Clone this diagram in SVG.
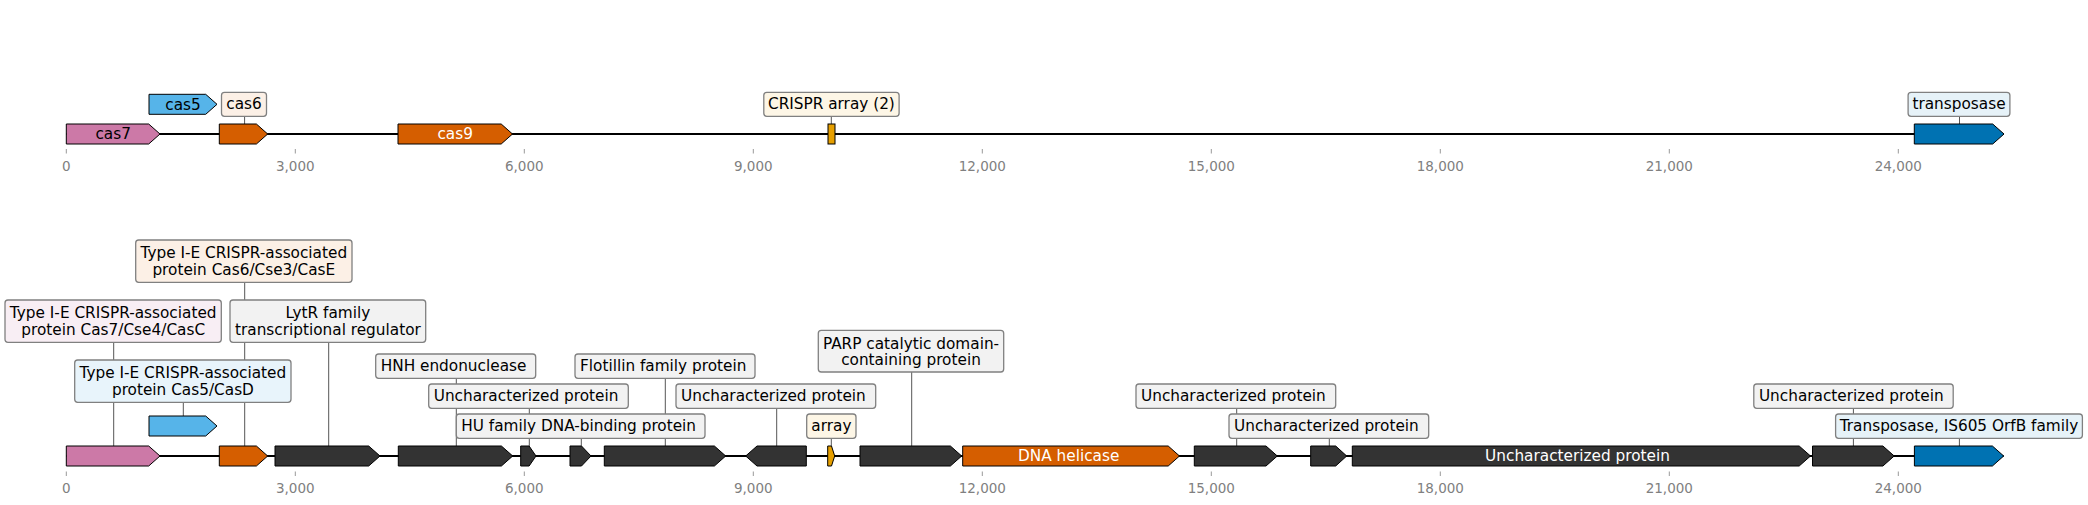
<svg xmlns="http://www.w3.org/2000/svg" width="2088" height="505" viewBox="0 0 2088 505">
<style>
text{font-family:"DejaVu Sans","Liberation Sans",sans-serif;font-size:15.3px;fill:#000}
.tl{font-size:13.5px;fill:#808080;text-anchor:middle}
.c{text-anchor:middle}
.w{fill:#fff}
.bk{stroke:#000;stroke-width:2;fill:none}
.tk{stroke:#999;stroke-width:1}
.ld{stroke:#555;stroke-width:1;fill:none}
.g{stroke:#000;stroke-width:1}
.bx{stroke:#808080;stroke-width:1.3}
.pk{fill:#cc79a7}.sb{fill:#56b4e9}.or{fill:#d55e00}.dk{fill:#333333}.ye{fill:#e69f00}.bl{fill:#0072b2}
.bpk{fill:#f8eef4}.bsb{fill:#e8f4fb}.bor{fill:#fcf0e6}.bdk{fill:#f2f2f2}.bye{fill:#fdf6e6}.bbl{fill:#e6f2f8}
</style>
<g id="axes">
<line class="bk" x1="66.3" y1="134" x2="2003.7" y2="134"/>
<line class="bk" x1="66.3" y1="456" x2="2003.7" y2="456"/>
<g class="tk">
<line x1="66.3" y1="149" x2="66.3" y2="153.5"/><line x1="295.3" y1="149" x2="295.3" y2="153.5"/><line x1="524.3" y1="149" x2="524.3" y2="153.5"/><line x1="753.3" y1="149" x2="753.3" y2="153.5"/><line x1="982.3" y1="149" x2="982.3" y2="153.5"/><line x1="1211.3" y1="149" x2="1211.3" y2="153.5"/><line x1="1440.3" y1="149" x2="1440.3" y2="153.5"/><line x1="1669.3" y1="149" x2="1669.3" y2="153.5"/><line x1="1898.3" y1="149" x2="1898.3" y2="153.5"/>
<line x1="66.3" y1="471.5" x2="66.3" y2="476"/><line x1="295.3" y1="471.5" x2="295.3" y2="476"/><line x1="524.3" y1="471.5" x2="524.3" y2="476"/><line x1="753.3" y1="471.5" x2="753.3" y2="476"/><line x1="982.3" y1="471.5" x2="982.3" y2="476"/><line x1="1211.3" y1="471.5" x2="1211.3" y2="476"/><line x1="1440.3" y1="471.5" x2="1440.3" y2="476"/><line x1="1669.3" y1="471.5" x2="1669.3" y2="476"/><line x1="1898.3" y1="471.5" x2="1898.3" y2="476"/>
</g>
<text class="tl" x="66.3" y="171">0</text><text class="tl" x="295.3" y="171">3,000</text><text class="tl" x="524.3" y="171">6,000</text><text class="tl" x="753.3" y="171">9,000</text><text class="tl" x="982.3" y="171">12,000</text><text class="tl" x="1211.3" y="171">15,000</text><text class="tl" x="1440.3" y="171">18,000</text><text class="tl" x="1669.3" y="171">21,000</text><text class="tl" x="1898.3" y="171">24,000</text>
<text class="tl" x="66.3" y="493">0</text><text class="tl" x="295.3" y="493">3,000</text><text class="tl" x="524.3" y="493">6,000</text><text class="tl" x="753.3" y="493">9,000</text><text class="tl" x="982.3" y="493">12,000</text><text class="tl" x="1211.3" y="493">15,000</text><text class="tl" x="1440.3" y="493">18,000</text><text class="tl" x="1669.3" y="493">21,000</text><text class="tl" x="1898.3" y="493">24,000</text>
</g>
<g id="connectors">
<line class="ld" x1="244.6" y1="116.3" x2="244.6" y2="124"/>
<line class="ld" x1="831.3" y1="116.3" x2="831.3" y2="124"/>
<line class="ld" x1="1959.5" y1="116.3" x2="1959.5" y2="124"/>
<line class="ld" x1="244.7" y1="282.3" x2="244.7" y2="446"/>
<line class="ld" x1="113.7" y1="342.3" x2="113.7" y2="446"/>
<line class="ld" x1="328.7" y1="342.3" x2="328.7" y2="446"/>
<line class="ld" x1="183.3" y1="402.3" x2="183.3" y2="416"/>
<line class="ld" x1="456.3" y1="378.3" x2="456.3" y2="446"/>
<line class="ld" x1="529.3" y1="408.3" x2="529.3" y2="446"/>
<line class="ld" x1="581.3" y1="438.3" x2="581.3" y2="446"/>
<line class="ld" x1="665.3" y1="378.3" x2="665.3" y2="446"/>
<line class="ld" x1="776.7" y1="408.3" x2="776.7" y2="446"/>
<line class="ld" x1="831.3" y1="438.3" x2="831.3" y2="446"/>
<line class="ld" x1="911.7" y1="372" x2="911.7" y2="446"/>
<line class="ld" x1="1236.7" y1="408.3" x2="1236.7" y2="446"/>
<line class="ld" x1="1329.3" y1="438.3" x2="1329.3" y2="446"/>
<line class="ld" x1="1853.4" y1="408.3" x2="1853.4" y2="446"/>
<line class="ld" x1="1959.4" y1="438.3" x2="1959.4" y2="446"/>
</g>
<!-- top track -->
<g id="top-cas7"><polygon class="g pk" points="66.3,124 148.7,124 160,134 148.7,144 66.3,144"/><text class="c" x="113.2" y="139.3">cas7</text></g>
<g id="top-cas5"><polygon class="g sb" points="149,94.3 205.7,94.3 217,104.3 205.7,114.3 149,114.3"/><text class="c" x="183" y="109.6">cas5</text></g>
<g id="top-cas6"><polygon class="g or" points="219.3,124 256.4,124 267.7,134 256.4,144 219.3,144"/><rect class="bx bor" x="221.5" y="92.3" width="45" height="24" rx="3"/><text class="c" x="244" y="109.3">cas6</text></g>
<g id="top-cas9"><polygon class="g or" points="398,124 501.2,124 512.5,134 501.2,144 398,144"/><text class="c w" x="455.2" y="139.3">cas9</text></g>
<g id="top-array"><rect class="g ye" x="828" y="124" width="7" height="20"/><rect class="bx bye" x="763.8" y="92.3" width="135.3" height="24" rx="3"/><text class="c" x="831.4" y="109.3">CRISPR array (2)</text></g>
<g id="top-transposase"><polygon class="g bl" points="1914.3,124 1992.7,124 2004,134 1992.7,144 1914.3,144"/><rect class="bx bbl" x="1908.1" y="92.3" width="101.8" height="24" rx="3"/><text class="c" x="1959" y="109.3">transposase</text></g>
<!-- bottom track -->
<g id="cas7"><polygon class="g pk" points="66.3,446 148.7,446 160,456 148.7,466 66.3,466"/><rect class="bx bpk" x="5" y="300" width="216.3" height="42.3" rx="3"/><text class="c" x="113.2" y="318.3">Type I-E CRISPR-associated</text><text class="c" x="113.2" y="335">protein Cas7/Cse4/CasC</text></g>
<g id="cas5"><polygon class="g sb" points="149,416 205.7,416 217,426 205.7,436 149,436"/><rect class="bx bsb" x="74.7" y="360" width="216.3" height="42.3" rx="3"/><text class="c" x="182.9" y="378.3">Type I-E CRISPR-associated</text><text class="c" x="182.9" y="395">protein Cas5/CasD</text></g>
<g id="cas6"><polygon class="g or" points="219.3,446 256.4,446 267.7,456 256.4,466 219.3,466"/><rect class="bx bor" x="135.7" y="240" width="216.3" height="42.3" rx="3"/><text class="c" x="243.8" y="258.3">Type I-E CRISPR-associated</text><text class="c" x="243.8" y="275">protein Cas6/Cse3/CasE</text></g>
<g id="lytr"><polygon class="g dk" points="275,446 368.7,446 380,456 368.7,466 275,466"/><rect class="bx bdk" x="230" y="300" width="195.7" height="42.3" rx="3"/><text class="c" x="327.9" y="318.3">LytR family</text><text class="c" x="327.9" y="335">transcriptional regulator</text></g>
<g id="hnh"><polygon class="g dk" points="398.3,446 501.4,446 512.7,456 501.4,466 398.3,466"/><rect class="bx bdk" x="375.7" y="354" width="160" height="24.3" rx="3"/><text x="380.7" y="371">HNH endonuclease</text></g>
<g id="unchar1"><polygon class="g dk" points="520.7,446 529.1,446 536,456 529.1,466 520.7,466"/><rect class="bx bdk" x="428.7" y="384" width="199.6" height="24.3" rx="3"/><text x="433.7" y="401">Uncharacterized protein</text></g>
<g id="hu"><polygon class="g dk" points="570,446 581.5,446 591,456 581.5,466 570,466"/><rect class="bx bdk" x="456.3" y="414" width="248.7" height="24.3" rx="3"/><text x="461.3" y="431">HU family DNA-binding protein</text></g>
<g id="flotillin"><polygon class="g dk" points="604.3,446 714.4,446 725.7,456 714.4,466 604.3,466"/><rect class="bx bdk" x="575" y="354" width="180" height="24.3" rx="3"/><text x="580" y="371">Flotillin family protein</text></g>
<g id="unchar2"><polygon class="g dk" points="745.7,456 757,446 806.3,446 806.3,466 757,466"/><rect class="bx bdk" x="676" y="384" width="199.7" height="24.3" rx="3"/><text x="681" y="401">Uncharacterized protein</text></g>
<g id="array"><polygon class="g ye" points="827.7,446 831.5,446 834.7,456 831.5,466 827.7,466"/><rect class="bx bye" x="806.7" y="414" width="49.3" height="24.3" rx="3"/><text class="c" x="831.4" y="431">array</text></g>
<g id="parp"><polygon class="g dk" points="860,446 950.4,446 961.7,456 950.4,466 860,466"/><rect class="bx bdk" x="818.3" y="330.3" width="185.4" height="41.7" rx="3"/><text class="c" x="911" y="348.6">PARP catalytic domain-</text><text class="c" x="911" y="365.3">containing protein</text></g>
<g id="helicase"><polygon class="g or" points="962.7,446 1168.2,446 1179.5,456 1168.2,466 962.7,466"/><text class="c w" x="1068.7" y="461.2">DNA helicase</text></g>
<g id="unchar3"><polygon class="g dk" points="1194.3,446 1266,446 1277.3,456 1266,466 1194.3,466"/><rect class="bx bdk" x="1136" y="384" width="199.7" height="24.3" rx="3"/><text x="1141" y="401">Uncharacterized protein</text></g>
<g id="unchar4"><polygon class="g dk" points="1310.7,446 1335.7,446 1346.7,456 1335.7,466 1310.7,466"/><rect class="bx bdk" x="1229" y="414" width="199.7" height="24.3" rx="3"/><text x="1234" y="431">Uncharacterized protein</text></g>
<g id="unchar-large"><polygon class="g dk" points="1352.3,446 1799.2,446 1810.5,456 1799.2,466 1352.3,466"/><text class="c w" x="1577.5" y="461.2">Uncharacterized protein</text></g>
<g id="unchar5"><polygon class="g dk" points="1812.5,446 1882.9,446 1894.2,456 1882.9,466 1812.5,466"/><rect class="bx bdk" x="1753.8" y="384" width="199.4" height="24.3" rx="3"/><text x="1758.9" y="401">Uncharacterized protein</text></g>
<g id="transposase"><polygon class="g bl" points="1914.4,446 1992.4,446 2003.7,456 1992.4,466 1914.4,466"/><rect class="bx bbl" x="1835.6" y="414" width="246.8" height="24.3" rx="3"/><text class="c" x="1959" y="431">Transposase, IS605 OrfB family</text></g>
</svg>
